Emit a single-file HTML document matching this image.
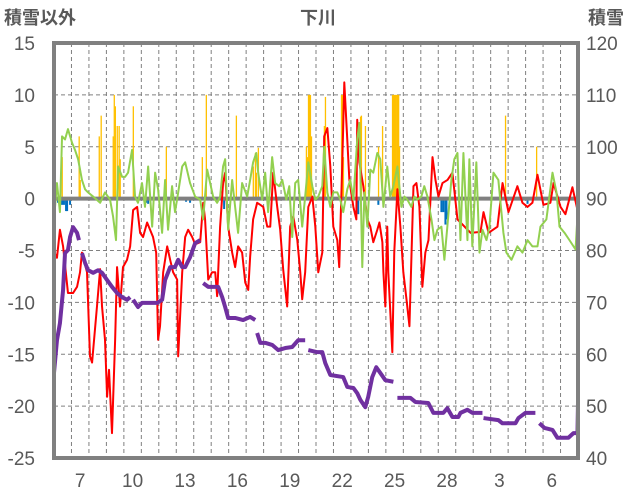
<!DOCTYPE html>
<html><head><meta charset="utf-8"><style>
html,body{margin:0;padding:0;background:#fff;}
svg{display:block;font-family:"Liberation Sans","Noto Sans CJK JP",sans-serif;}
</style></head><body>
<svg id="chart" width="636" height="501" viewBox="0 0 636 501" xmlns="http://www.w3.org/2000/svg">
<text x="4" y="24" font-size="18" fill="#595959" font-weight="bold">積雪以外</text>
<text x="318" y="24" font-size="18" fill="#595959" text-anchor="middle" font-weight="bold">下川</text>
<text x="588" y="24" font-size="18" fill="#595959" font-weight="bold">積雪</text>
<g id="grid"></g>
<g id="bars"></g>
<g id="lines"></g>
<g id="axes"></g>
</svg>
<script>
const leftTicks=[15,10,5,0,-5,-10,-15,-20,-25];
const rightTicks=[120,110,100,90,80,70,60,50,40];
const dayLabels=["7","10","13","16","19","22","25","28","3","6"];
const dayLabelPos=[1,4,7,10,13,16,19,22,25,28];
const redT=[0,0.17,0.34,0.52,0.8,1.09,1.32,1.49,1.6,1.89,2.06,2.18,2.46,2.64,2.75,2.92,3.04,3.15,3.32,3.5,3.61,3.78,3.95,4.18,4.36,4.53,4.76,4.93,5.1,5.33,5.5,5.67,5.85,5.96,6.07,6.25,6.48,6.65,6.82,7.05,7.11,7.34,7.51,7.68,7.91,8.08,8.37,8.54,8.65,8.83,9.05,9.23,9.34,9.51,9.68,9.8,9.97,10.2,10.37,10.54,10.77,10.95,11.12,11.23,11.4,11.63,11.81,11.98,12.21,12.38,12.55,12.78,12.95,13.12,13.35,13.52,13.7,13.93,14.1,14.21,14.38,14.56,14.79,14.96,15.13,15.36,15.47,15.65,15.82,15.99,16.22,16.33,16.5,16.62,16.79,16.91,17.14,17.31,17.36,17.48,17.71,17.94,18.11,18.28,18.51,18.63,18.8,18.86,18.97,19.08,19.14,19.37,19.48,19.66,19.83,20,20.18,20.35,20.58,20.75,20.92,21.09,21.26,21.44,21.67,21.84,22.01,22.24,22.53,22.81,23.1,23.85,24.42,24.59,24.88,25.39,25.68,26.02,26.53,26.82,27.11,27.39,27.68,28.02,28.42,28.6,29,29.28,29.68,29.97];
const redV=[-5.1,-5.7,-3,-4.6,-9.1,-9.1,-8.5,-7.1,-5.2,-7.1,-15.2,-15.8,-10.4,-6.8,-10.4,-13.6,-19.1,-16.5,-22.6,-13.6,-6.6,-10.4,-6.6,-5.9,-4.6,-1.1,-0.8,-3.3,-3.7,-2.3,-3,-3.7,-5.2,-13.6,-12.3,-7.1,-4.6,-5.9,-7.1,-7.8,-15.2,-7.1,-3.7,-3,-3.7,-4.4,-4.2,-0.4,-2,-7.8,-7.1,-7.1,-9.4,-2.7,1.5,2.5,-2.7,-5.2,-6.6,-4.6,-5.2,-8.1,-8.8,-5.6,-2,-0.4,-0.6,-0.8,-2.7,-2.7,2.5,-0.8,-3,-6.8,-10.4,-2.7,-1.7,-4,-7.1,-9.7,-7.1,-0.8,0.2,-2.7,-7.1,-5.2,6,6.8,3.1,-2.7,-4,-6.6,3.1,11.2,5.7,1.8,-0.8,-2,7.6,3.5,1.2,-2,-2.7,-4.2,-3,-2.3,-4.2,-7.1,-10.4,-2.7,-7.1,-14.8,-5.2,0.9,-2.7,-7.1,-9.7,-12.3,1.2,1.5,-0.8,-8.5,-5.2,-4,4,1.8,0.2,1.5,1.8,2.5,-2,-3.3,-3.2,-1.3,-3.3,-2.7,1.5,-1.3,1.2,-0.4,-0.8,-0.4,2.3,-0.6,-0.4,1.5,-0.8,-1.5,1.1,-1.1];
const greenT=[0,0.17,0.34,0.46,0.63,0.8,1.03,1.2,1.38,1.6,1.78,1.95,2.24,2.64,2.92,3.21,3.38,3.55,3.67,3.9,4.07,4.24,4.47,4.64,4.81,5.04,5.21,5.39,5.62,5.79,5.96,6.19,6.36,6.53,6.76,6.93,7.11,7.34,7.51,7.79,8.08,8.37,8.54,8.77,8.94,9.11,9.34,9.51,9.68,9.8,9.97,10.2,10.37,10.54,10.77,11.06,11.23,11.4,11.58,11.69,11.92,12.09,12.26,12.49,12.66,12.89,13.07,13.3,13.47,13.64,13.81,13.98,14.21,14.38,14.56,14.79,14.96,15.13,15.36,15.47,15.65,15.82,15.99,16.22,16.39,16.56,16.79,16.96,17.14,17.36,17.48,17.65,17.77,17.94,18.11,18.28,18.51,18.68,18.86,19.08,19.25,19.43,19.66,19.89,20.06,20.23,20.46,20.63,20.8,21.03,21.2,21.38,21.61,21.78,21.95,22.18,22.35,22.52,22.75,22.92,23.1,23.27,23.44,23.67,23.78,23.95,24.18,24.36,24.53,24.76,24.93,25.16,25.44,25.73,25.9,26.19,26.53,26.82,27.11,27.39,27.68,27.85,28.19,28.54,28.77,28.94,29.23,29.51,29.86,30];
const greenV=[-2,1.5,-1.3,6,5.7,6.7,5.4,4.7,3.8,1.8,0.9,0.6,0.2,-0.4,0.6,-0.1,-1.7,-4,3.1,2.1,2.1,2.5,4.7,0.2,-0.4,1.5,-0.8,3.1,-2.7,2.5,0.9,-3.3,1.8,-3,1.2,-1.3,0.6,3.1,3.5,1.5,0.2,-0.1,-2,2.8,1.5,0.2,-0.4,0.2,3.1,3.8,-3,1.8,-0.8,-3.3,1.5,0.2,1.8,3.5,4.4,2.5,-0.1,2.5,-1.3,4,1.5,1.2,1.8,-0.1,1.2,-3.7,1.5,1.8,-2.7,0.2,3.5,1.2,-0.1,0.2,1.2,5,0.6,-0.8,0.6,0.6,-0.1,-1.3,0.9,1.8,-0.1,5.7,7.3,-6.6,0.6,-2.7,2.8,2.5,4.4,3.8,-0.8,3.1,0.2,1.2,3.1,-0.8,0.2,-0.1,-0.8,0.2,-0.1,0.2,1.2,0.2,-2,-4,-3,-2.7,-5.9,-2.7,1.8,3.8,4.4,-4,4.4,-4,3.8,-4.6,3.5,-5.2,-3,-4,-2.7,2.5,1.8,-3.3,-5.2,-5.9,-4.6,-5.2,-4,-4.6,-4.6,-2.7,-2,2.5,0.6,-2.7,-3.3,-4,-4.9,-0.8];
const snowSegT=[[0,0.17,0.34,0.52,0.63,0.8,0.92,1.09,1.32,1.43],[1.6,1.78,1.95,2.24,2.52,2.75,3.04,3.32,3.61,3.9,4.18,4.36],[4.53,4.81,5.04,5.33,5.9,6.19,6.36,6.65,6.93,7.11,7.34,7.51,7.79,8.08,8.37],[8.54,8.83,9.11,9.4,9.63,9.8,9.97,10.37,10.83,11.23,11.52],[11.63,11.81,12.09,12.49,12.84,13.24,13.64,13.98,14.38],[14.56,15.07,15.36,15.53,15.82,16.56,16.79,17.14,17.36,17.54,17.82,17.99,18.22,18.45,18.68,18.97,19.43],[19.66,20.4,20.69,21.43,21.72,22.29,22.52,22.81,23.15,23.27,23.67,23.95,24.53],[24.59,25.44,25.67,26.42,26.59,26.99,27.56],[27.79,28.08,28.54,28.82,29.45,29.74,29.97,30]];
const snowSegV=[[56.4,62.7,66,72.4,79.5,80.1,82.6,84.5,83.4,82],[79.5,77.6,76.2,75.7,76.2,75.7,74.3,73,71.8,71,70.5,71],[70.5,69.1,69.9,69.9,69.9,70.5,74.3,76.8,76.8,78.2,76.8,76.8,78.7,81.4,82],[73.7,73,73,73,71,69.1,67,67,66.6,67.2,66.6],[64.1,62.2,62.2,61.8,60.8,61.2,61.4,62.7,62.7],[60.8,60.4,60.4,58.3,56,55.6,53.7,53.5,52.5,51.2,49.8,51.8,55.6,57.5,56.4,55,54.7],[51.6,51.6,50.8,50.6,48.7,48.7,49.6,47.9,47.9,48.7,49.3,48.7,48.7],[47.7,47.3,46.7,46.7,47.7,48.7,48.7],[46.7,45.8,45.4,43.9,43.9,44.8,44.8,50.6]];
const precipT=[0.46,1.43,1.49,2.58,2.69,3.38,3.44,3.5,3.61,3.72,3.78,4.53,6.42,8.48,8.71,10.43,11.4,11.52,11.58,11.69,14.44,14.5,14.56,14.61,14.67,14.73,15.47,15.53,16.45,16.5,16.56,17.54,17.59,17.82,18.57,18.8,19.37,19.43,19.49,19.55,19.61,19.66,19.72,19.77,25.84,27.62];
const precipV=[4,6,1.8,6,8,6,10,8.9,7,7,3.8,8.9,5,4,10,8,3.1,4.4,2.5,4.9,5,4,10,10,10,6,7,9.8,10,10,4,7.9,8,7,5,7,10,10,10,10,10,10,10,5,8,5];
const blueT=[0.23,0.34,0.46,0.57,0.69,0.75,0.92,5.27,5.39,7.56,7.79,9.74,17.42,18.57,22.18,22.29,22.41,22.47,27.11];
const blueV=[-0.4,-0.6,-0.6,-0.6,-1.2,-1.2,-0.6,-0.4,-0.5,-0.3,-0.4,-1,-1.5,-0.6,-1.3,-1.3,-2.5,-2,-0.5];

const X0=54,X1=578,Y0=43,Y1=458,DAYS=30;
const xS=t=>X0+(X1-X0)*t/DAYS;
const yL=v=>Y0+(15-v)*(Y1-Y0)/40;
const yR=v=>Y0+(120-v)*(Y1-Y0)/80;
const NS="http://www.w3.org/2000/svg";
function mk(tag,parent,attrs){const e=document.createElementNS(NS,tag);for(const k in attrs)e.setAttribute(k,attrs[k]);parent.appendChild(e);return e;}
const grid=document.getElementById('grid'),bars=document.getElementById('bars'),lines=document.getElementById('lines'),axes=document.getElementById('axes');
leftTicks.forEach(v=>{if(v===15||v===-25||v===0)return;
 const l=mk('line',grid,{x1:X0,x2:X1,y1:yL(v),y2:yL(v),stroke:'#808080','stroke-width':1,'stroke-dasharray':'4,3'});
 
 });
for(let d=1;d<DAYS;d++){const l=mk('line',grid,{x1:xS(d),x2:xS(d),y1:Y0,y2:Y1,stroke:'#808080','stroke-width':1,'stroke-dasharray':'4,3'});
 
 }
const bw=0.9;
precipT.forEach((t,i)=>{const r=mk('rect',bars,{x:xS(t)-bw/2,y:yL(precipV[i]),width:bw+0.4,height:yL(0)-yL(precipV[i]),fill:'#FFC000'});
 
 });
blueT.forEach((t,i)=>{const r=mk('rect',bars,{x:xS(t)-1,y:yL(0),width:2,height:yL(blueV[i])-yL(0),fill:'#0070C0'});
 
 });
const z=mk('line',bars,{x1:X0,x2:X1,y1:yL(0),y2:yL(0),stroke:'#808080','stroke-width':4});


const red=mk('polyline',lines,{points:redT.map((t,i)=>xS(t)+','+yL(redV[i])).join(' '),fill:'none',stroke:'#FF0000','stroke-width':2,'stroke-linejoin':'round'});


const green=mk('polyline',lines,{points:greenT.map((t,i)=>xS(t)+','+yL(greenV[i])).join(' '),fill:'none',stroke:'#92D050','stroke-width':2,'stroke-linejoin':'round'});


snowSegT.forEach((seg,s)=>{const p=mk('polyline',lines,{points:seg.map((t,i)=>xS(t)+','+yR(snowSegV[s][i])).join(' '),fill:'none',stroke:'#7030A0','stroke-width':4,'stroke-linejoin':'round'});
 
 });
const fr=mk('rect',axes,{x:X0,y:Y0,width:X1-X0,height:Y1-Y0,fill:'none',stroke:'#808080','stroke-width':4});


leftTicks.forEach(v=>{const tx=mk('text',axes,{x:35,y:yL(v)+7,'font-size':19,fill:'#595959','text-anchor':'end'});tx.textContent=v;
 
 });
rightTicks.forEach(v=>{const tx=mk('text',axes,{x:586,y:yR(v)+7,'font-size':19,fill:'#595959'});tx.textContent=v;
 
 });
dayLabels.forEach((s,i)=>{const tx=mk('text',axes,{x:xS(dayLabelPos[i]+0.5),y:487,'font-size':19,fill:'#595959','text-anchor':'middle'});tx.textContent=s;
 
 });
</script>
</body></html>
